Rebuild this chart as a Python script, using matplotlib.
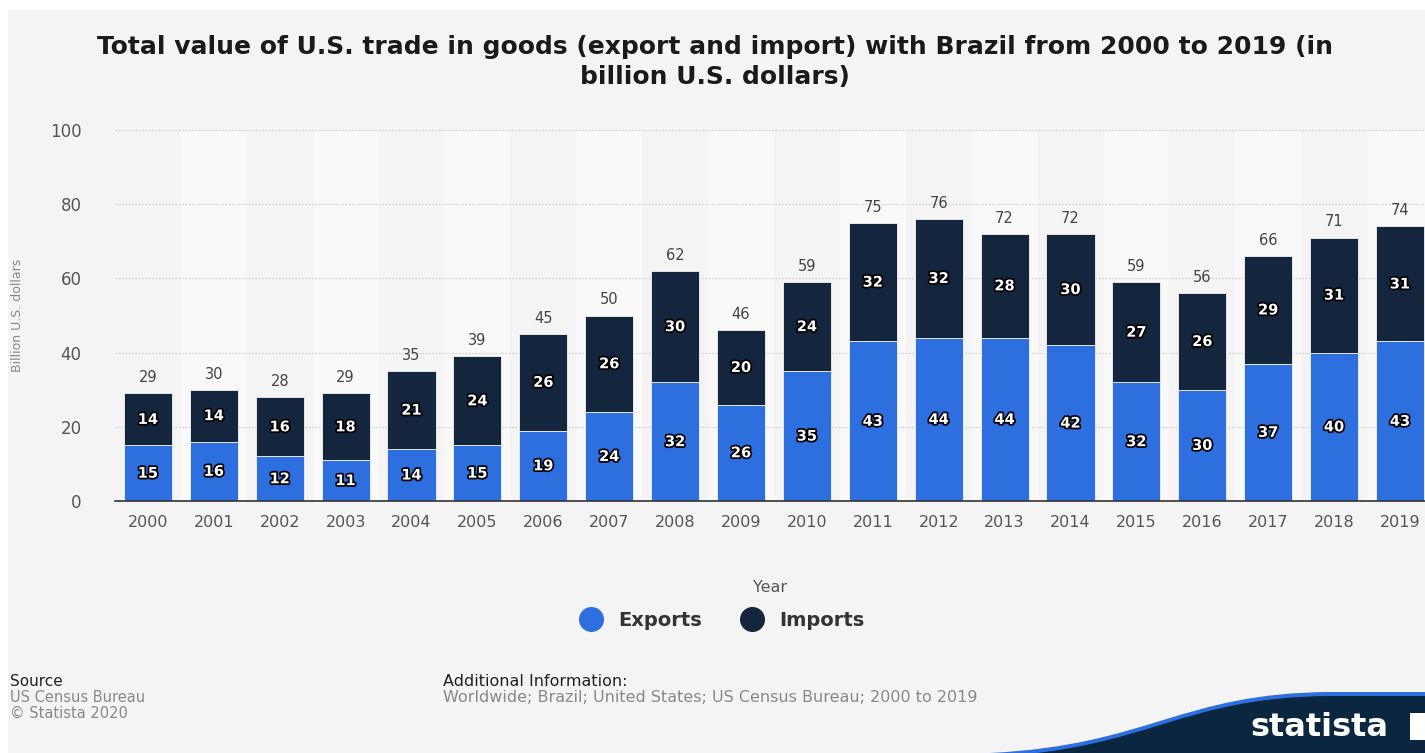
import matplotlib.pyplot as plt
import matplotlib.patheffects as pe
from matplotlib.lines import Line2D
from matplotlib.path import Path
from matplotlib.patches import PathPatch, Rectangle
import numpy as np

years = ['2000', '2001', '2002', '2003', '2004', '2005', '2006', '2007', '2008', '2009',
         '2010', '2011', '2012', '2013', '2014', '2015', '2016', '2017', '2018', '2019']
exports = [15, 16, 12, 11, 14, 15, 19, 24, 32, 26, 35, 43, 44, 44, 42, 32, 30, 37, 40, 43]
imports = [14, 14, 16, 18, 21, 24, 26, 26, 30, 20, 24, 32, 32, 28, 30, 27, 26, 29, 31, 31]
totals = [29, 30, 28, 29, 35, 39, 45, 50, 62, 46, 59, 75, 76, 72, 72, 59, 56, 66, 71, 74]

c_exp = '#2e6fe0'
c_imp = '#13263d'
W, H = 1425, 753

fig = plt.figure(figsize=(14.25, 7.53), dpi=100, facecolor='white')
# grey page with thin white margin at top and left
fig.patches.append(Rectangle((8 / W, 0), 1, 1 - 10 / H, transform=fig.transFigure,
                             color='#f4f4f4', lw=0, zorder=-10))

ax = fig.add_axes([115 / W, 1 - 501 / H, 1 - 115 / W, 371 / H])
ax.set_facecolor('#f4f4f4')

x = np.arange(len(years))
for i in x:
    if i % 2 == 1:
        ax.axvspan(i - 0.5, i + 0.5, color='#f9f9f9', zorder=0, lw=0)

ax.bar(x, exports, width=0.73, color=c_exp, zorder=2, edgecolor='#f4f4f4', linewidth=0.6)
ax.bar(x, imports, width=0.73, bottom=exports, color=c_imp, zorder=2, edgecolor='#f4f4f4', linewidth=0.6)

stroke = [pe.withStroke(linewidth=2.5, foreground='black')]
for i in x:
    ax.text(i, exports[i] / 2, str(exports[i]), ha='center', va='center', color='white',
            fontsize=10.5, fontweight='bold', path_effects=stroke, zorder=4)
    ax.text(i, exports[i] + imports[i] / 2, str(imports[i]), ha='center', va='center', color='white',
            fontsize=10.5, fontweight='bold', path_effects=stroke, zorder=4)
    ax.text(i, totals[i] + 2.2, str(totals[i]), ha='center', va='bottom', color='#444444',
            fontsize=10.5, zorder=4)

ax.set_xlim(-0.5, 19.38)
ax.set_ylim(0, 100)
ax.set_yticks([0, 20, 40, 60, 80, 100])
ax.set_xticks(x)
ax.set_xticklabels(years)
ax.tick_params(axis='both', length=0, labelcolor='#555555')
ax.tick_params(axis='x', pad=10, labelsize=11.5)
ax.tick_params(axis='y', pad=24, labelsize=12)
ax.grid(axis='y', linestyle=(0, (1.5, 1.5)), color='#cccccc', linewidth=0.8, zorder=1)
for s in ['top', 'right', 'left']:
    ax.spines[s].set_visible(False)
ax.spines['bottom'].set_color('#333333')
ax.spines['bottom'].set_linewidth(1.2)
ax.spines['bottom'].set_zorder(3)

ax.set_xlabel('Year', fontsize=11.5, color='#555555')
ax.xaxis.set_label_coords(0.5, -86 / 371)
ax.xaxis.label.set_va('center')
ax.set_ylabel('Billion U.S. dollars', fontsize=9, color='#888888',
              family=['Liberation Sans Narrow', 'DejaVu Sans'])
ax.yaxis.set_label_coords(-97 / 1310, 0.5)
ax.yaxis.label.set_va('center')

fig.text(715 / W, 1 - 62 / H,
         'Total value of U.S. trade in goods (export and import) with Brazil from 2000 to 2019 (in\nbillion U.S. dollars)',
         ha='center', va='center', fontsize=18, fontweight='bold', color='#1a1a1a', linespacing=1.3)

handles = [Line2D([], [], marker='o', linestyle='', markersize=17, color=c_exp),
           Line2D([], [], marker='o', linestyle='', markersize=17, color=c_imp)]
leg = fig.legend(handles, ['Exports', 'Imports'], loc='center', bbox_to_anchor=(718 / W, 1 - 620 / H),
                 ncol=2, frameon=False, handletextpad=0.4, columnspacing=1.6,
                 prop={'size': 14, 'weight': 'bold'})
for t in leg.get_texts():
    t.set_color('#333333')

fig.text(10 / W, 1 - 681 / H, 'Source', fontsize=11, color='#222222', va='center')
fig.text(10 / W, 1 - 697 / H, 'US Census Bureau', fontsize=10.5, color='#888888', va='center')
fig.text(10 / W, 1 - 713 / H, '© Statista 2020', fontsize=10.5, color='#888888', va='center')
fig.text(443 / W, 1 - 681 / H, 'Additional Information:', fontsize=11.5, color='#222222', va='center')
fig.text(443 / W, 1 - 697 / H, 'Worldwide; Brazil; United States; US Census Bureau; 2000 to 2019',
         fontsize=11.5, color='#888888', va='center')

# statista logo band
def band(off):
    verts = [(990 / W, 0), (990 / W, off / H),
             (1150 / W, (8 + off) / H), (1180 / W, (60 + off) / H), (1330 / W, (61 + off) / H),
             (1 + 0.01, (61 + off) / H), (1 + 0.01, 0), (990 / W, 0)]
    codes = [Path.MOVETO, Path.LINETO, Path.CURVE4, Path.CURVE4, Path.CURVE4,
             Path.LINETO, Path.LINETO, Path.CLOSEPOLY]
    return Path(verts, codes)

fig.patches.append(PathPatch(band(0), transform=fig.transFigure, color=c_exp, lw=0))
fig.patches.append(PathPatch(band(-4), transform=fig.transFigure, color='#0b2740', lw=0))
fig.text(1250 / W, 1 - 727 / H, 'statista', fontsize=23, fontweight='bold', color='white', va='center')
fig.patches.append(Rectangle((1410 / W, 1 - 740 / H), 20 / W, 27 / H, transform=fig.transFigure,
                             color='white', lw=0))

fig.savefig('out.png', dpi=100, facecolor=fig.get_facecolor())
